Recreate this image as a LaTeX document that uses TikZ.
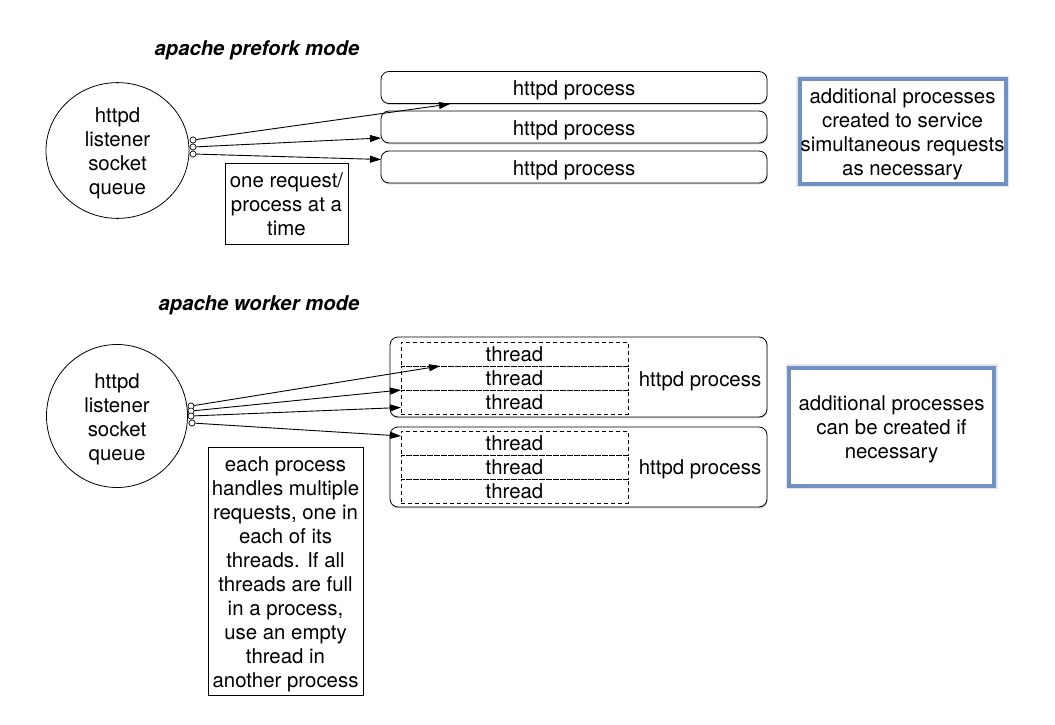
\documentclass[tikz,border=0pt]{standalone}
\usepackage{fontspec}
\setmainfont{TeX Gyre Heros}
\usetikzlibrary{shapes.geometric,arrows.meta,shadows}
\definecolor{boxblue}{RGB}{112,145,196}
\newcommand\tx[2][-3.5pt]{\raisebox{#1}[\height][\depth]{\begin{tabular}{@{}c@{}}#2\end{tabular}}}
\begin{document}
\begin{tikzpicture}[x=1pt,y=-1pt,
  every node/.style={font=\fontsize{20.4}{24}\selectfont, inner sep=0pt},
  ttl/.style={font=\fontsize{20.3}{24}\selectfont\bfseries\itshape, anchor=base},
  queue/.style={ellipse, draw, line width=0.8pt},
  proc/.style={draw, rounded corners=8pt, line width=0.8pt, fill=white,
    general shadow={fill=black!18, shadow xshift=0.6pt, shadow yshift=-1.4pt}},
  thr/.style={draw, dash pattern=on 4pt off 3pt, line width=0.7pt, minimum width=227pt, minimum height=24pt},
  note/.style={draw, line width=0.8pt},
  bluenote/.style={draw=boxblue, line width=4pt, fill=white,
    preaction={draw=black!10, line width=7pt}},
  sock/.style={circle, draw, fill=white, minimum size=6pt, line width=0.6pt},
  arr/.style={-{Triangle[length=11pt,width=7pt]}, line width=0.9pt}
]
\useasboundingbox[fill=white] (0,0) rectangle (1055,725);

% ---------- prefork ----------
\node[ttl] (t1) at (257,56) {apache prefork mode};
\node[queue, minimum width=143pt, minimum height=133pt] (q1) at (117.5,150.5)
  {\tx{httpd\\listener\\socket\\queue}};
\node[proc, minimum width=386pt, minimum height=32pt] (p1) at (574,87.5) {\tx{httpd process}};
\node[proc, minimum width=386pt, minimum height=32pt] (p2) at (574,127) {\tx{httpd process}};
\node[proc, minimum width=386pt, minimum height=32pt] (p3) at (574,167) {\tx{httpd process}};
\node[note, minimum width=123pt, minimum height=81pt] (n1) at (286.5,203.5)
  {\tx{one request/\\process at a\\time}};
\node[bluenote, minimum width=206pt, minimum height=104pt] (b1) at (902.5,131.5)
  {\tx{additional processes\\created to service\\simultaneous requests\\as necessary}};

\coordinate (e1) at (450,104);
\coordinate (e2) at (381,138);
\coordinate (e3) at (381,159.5);
\node[sock] (s1) at (193,140) {};
\node[sock] (s2) at (193,147) {};
\node[sock] (s3) at (193,154) {};
\draw[arr] (s1) -- (e1);
\draw[arr] (s2) -- (e2);
\draw[arr] (s3) -- (e3);
\node[sock] at (s1) {};
\node[sock] at (s2) {};
\node[sock] at (s3) {};

% ---------- worker ----------
\node[ttl] (t2) at (259,310) {apache worker mode};
\node[queue, minimum width=141pt, minimum height=143pt] (q2) at (117,416)
  {\tx{httpd\\listener\\socket\\queue}};
\node[proc, minimum width=377pt, minimum height=80pt] (w1) at (578.5,377) {};
\node[proc, minimum width=377pt, minimum height=80pt] (w2) at (578.5,467) {};
\node[thr] (a1) at (514.5,354) {\tx[-2.5pt]{thread}};
\node[thr] (a2) at (514.5,378) {\tx[-2.5pt]{thread}};
\node[thr] (a3) at (514.5,402) {\tx[-2.5pt]{thread}};
\node[thr] (c1) at (514.5,443) {\tx[-2.5pt]{thread}};
\node[thr] (c2) at (514.5,467) {\tx[-2.5pt]{thread}};
\node[thr] (c3) at (514.5,491) {\tx[-2.5pt]{thread}};
\node (l1) at (700,380) {\tx[-1.5pt]{httpd process}};
\node (l2) at (700,468) {\tx[-1.5pt]{httpd process}};
\node[note, minimum width=155pt, minimum height=248pt] (n2) at (285.5,571)
  {\tx{each process\\handles multiple\\requests, one in\\each of its\\threads. If all\\threads are full\\in a process,\\use an empty\\thread in\\another process}};
\node[bluenote, minimum width=205pt, minimum height=118pt] (b2) at (891.5,426.5)
  {\tx{additional processes\\can be created if\\necessary}};

\coordinate (f1) at (440,366);
\coordinate (f2) at (401,390);
\coordinate (f3) at (401,407.5);
\coordinate (f4) at (401,436);
\node[sock] (r1) at (191,406) {};
\node[sock] (r2) at (191,411) {};
\node[sock] (r3) at (191,416) {};
\node[sock] (r4) at (192,423) {};
\draw[arr] (r1) -- (f1);
\draw[arr] (r2) -- (f2);
\draw[arr] (r3) -- (f3);
\draw[arr] (r4) -- (f4);
\node[sock] at (r1) {};
\node[sock] at (r2) {};
\node[sock] at (r3) {};
\node[sock] at (r4) {};
\end{tikzpicture}
\end{document}
